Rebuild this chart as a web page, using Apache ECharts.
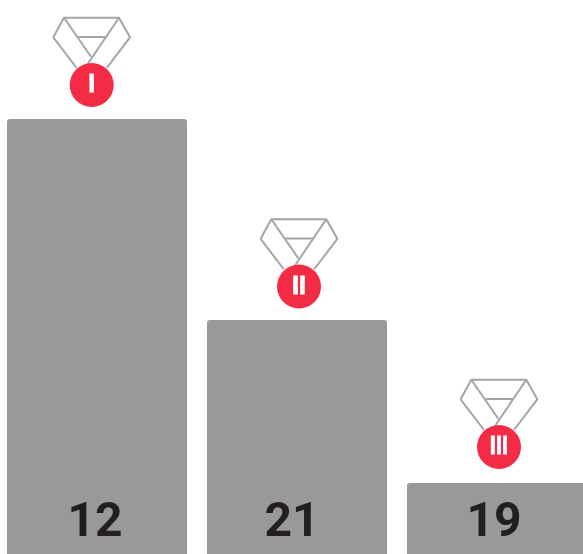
<!DOCTYPE html>
<html><head><meta charset="utf-8">
<style>html,body{margin:0;padding:0;background:#fff}#c{width:583px;height:554px}</style>
<script src="https://cdn.jsdelivr.net/npm/echarts@6/dist/echarts.min.js"></script>
</head><body><div id="c"></div>
<script>
const categories = ['1st', '2nd', '3rd'];
const barValues = [435, 234, 71];
const barLabels = ['12', '21', '19'];
const medalNumerals = ['I', 'II', 'III'];

const chart = echarts.init(document.getElementById('c'), null, {renderer: 'canvas'});
const nudgeX = [-5.3, 2, 2], nudgeY = [-34, -33.5, -36];
const labelNudge = [-2, -5, -3];
const numeralScale = [1, 1, 0.88];
const lineStyle = {stroke: '#a4a4a4', lineWidth: 2, fill: null, lineJoin: 'round'};
const medalLines = [
  [[-38.4,-47.7],[-27.7,-67.3],[27.3,-67.3],[38.3,-47.7],[15,-17]],
  [[-38.4,-47.7],[-15,-17]],
  [[-27.7,-67.3],[-0.7,-28.3]],
  [[27.3,-67.3],[-4,-21]],
  [[-13.4,-48],[14,-48]]
];
function renderMedal(params, api) {
  const i = api.value(0);
  const p = api.coord([i, api.value(1)]);
  const cx = p[0] + nudgeX[i], cy = p[1] + nudgeY[i];
  const children = medalLines.map(pts => ({
    type: 'polyline',
    shape: {points: pts.map(q => [cx + q[0], cy + q[1]])},
    style: lineStyle
  }));
  children.push({type: 'circle', shape: {cx: cx, cy: cy, r: 22}, style: {fill: '#f42b45'}});
  children.push({
    type: 'text', x: cx, y: cy + 0.5, scaleX: numeralScale[i],
    style: {
      text: medalNumerals[i], fill: '#fff', stroke: '#fff', lineWidth: 0.8,
      font: 'bold 25px "Liberation Sans"',
      align: 'center', verticalAlign: 'middle'
    }
  });
  return {type: 'group', children: children};
}
chart.setOption({
  animation: false,
  grid: {left: -3, right: -14, top: 0, bottom: 0, outerBoundsMode: 'none'},
  xAxis: {type: 'category', data: categories, show: false},
  yAxis: {type: 'value', min: 0, max: 554, show: false},
  series: [
    {
      type: 'bar', barWidth: 180,
      data: barValues.map((v, i) => ({value: v, label: {offset: [labelNudge[i], 0]}})),
      itemStyle: {color: '#999999', borderRadius: [3, 3, 0, 0]},
      label: {
        show: true, position: 'insideBottom', distance: 6,
        formatter: p => barLabels[p.dataIndex],
        color: '#231f20', fontFamily: 'Roboto', fontWeight: 700, fontSize: 48
      }
    },
    {
      type: 'custom', clip: false, z: 5,
      data: barValues.map((v, i) => [i, v]),
      renderItem: renderMedal
    }
  ]
});
</script></body></html>
